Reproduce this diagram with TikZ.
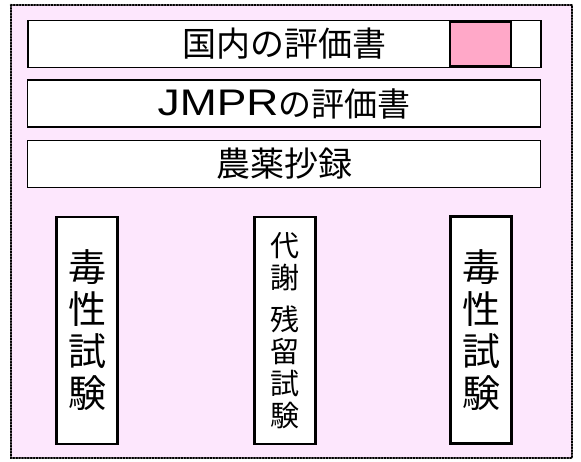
\documentclass[tikz,border=0pt]{standalone}
\usepackage{fontspec}
\newfontfamily\cjk{Noto Sans CJK JP}
\newfontfamily\latn{Liberation Sans}
\definecolor{bgpink}{HTML}{FDE7FD}
\definecolor{sqpink}{HTML}{FFA8C8}
\begin{document}
\begin{tikzpicture}[x=1pt,y=-1pt,
  hbox/.style={draw=black, line width=1.8pt, fill=white, minimum width=513pt, minimum height=47pt, inner sep=0pt,
    font=\cjk\fontsize{34}{38}\selectfont},
  vbox/.style={draw=black, line width=2.8pt, fill=white, minimum width=61pt, minimum height=227pt, inner sep=0pt, align=center},
  bigv/.style={font=\cjk\fontsize{38}{42}\selectfont},
  smallv/.style={font=\cjk\fontsize{29}{32}\selectfont},
  sq/.style={draw=black, line width=2.4pt, fill=sqpink, minimum width=61pt, minimum height=45pt, inner sep=0pt}]
\useasboundingbox (0,0) rectangle (581,462);
\draw[line width=2.6pt, dash pattern=on 1pt off 1.9pt, line cap=round, fill=bgpink] (11,5) rectangle (572,458);
\node[hbox] (b1) at (284.5,44) {国内の評価書};
\node[sq] (pk) at (480.5,44) {};
\node[hbox] (b2) at (284,103.5) {\raisebox{0.5pt}{\latn\fontsize{37}{40}\selectfont\scalebox{1.2}[1]{JMPR}}\fontsize{33}{36}\selectfont の評価書};
\node[hbox] (b3) at (284,164) {農薬抄録};
\node[vbox, bigv] (v1) at (87,330.5) {毒\\性\\試\\験};
\node[vbox, smallv] (v2) at (285,330.5) {代\\謝\\[10pt]残\\留\\試\\験};
\node[vbox, bigv] (v3) at (481,330) {毒\\性\\試\\験};
\end{tikzpicture}
\end{document}
